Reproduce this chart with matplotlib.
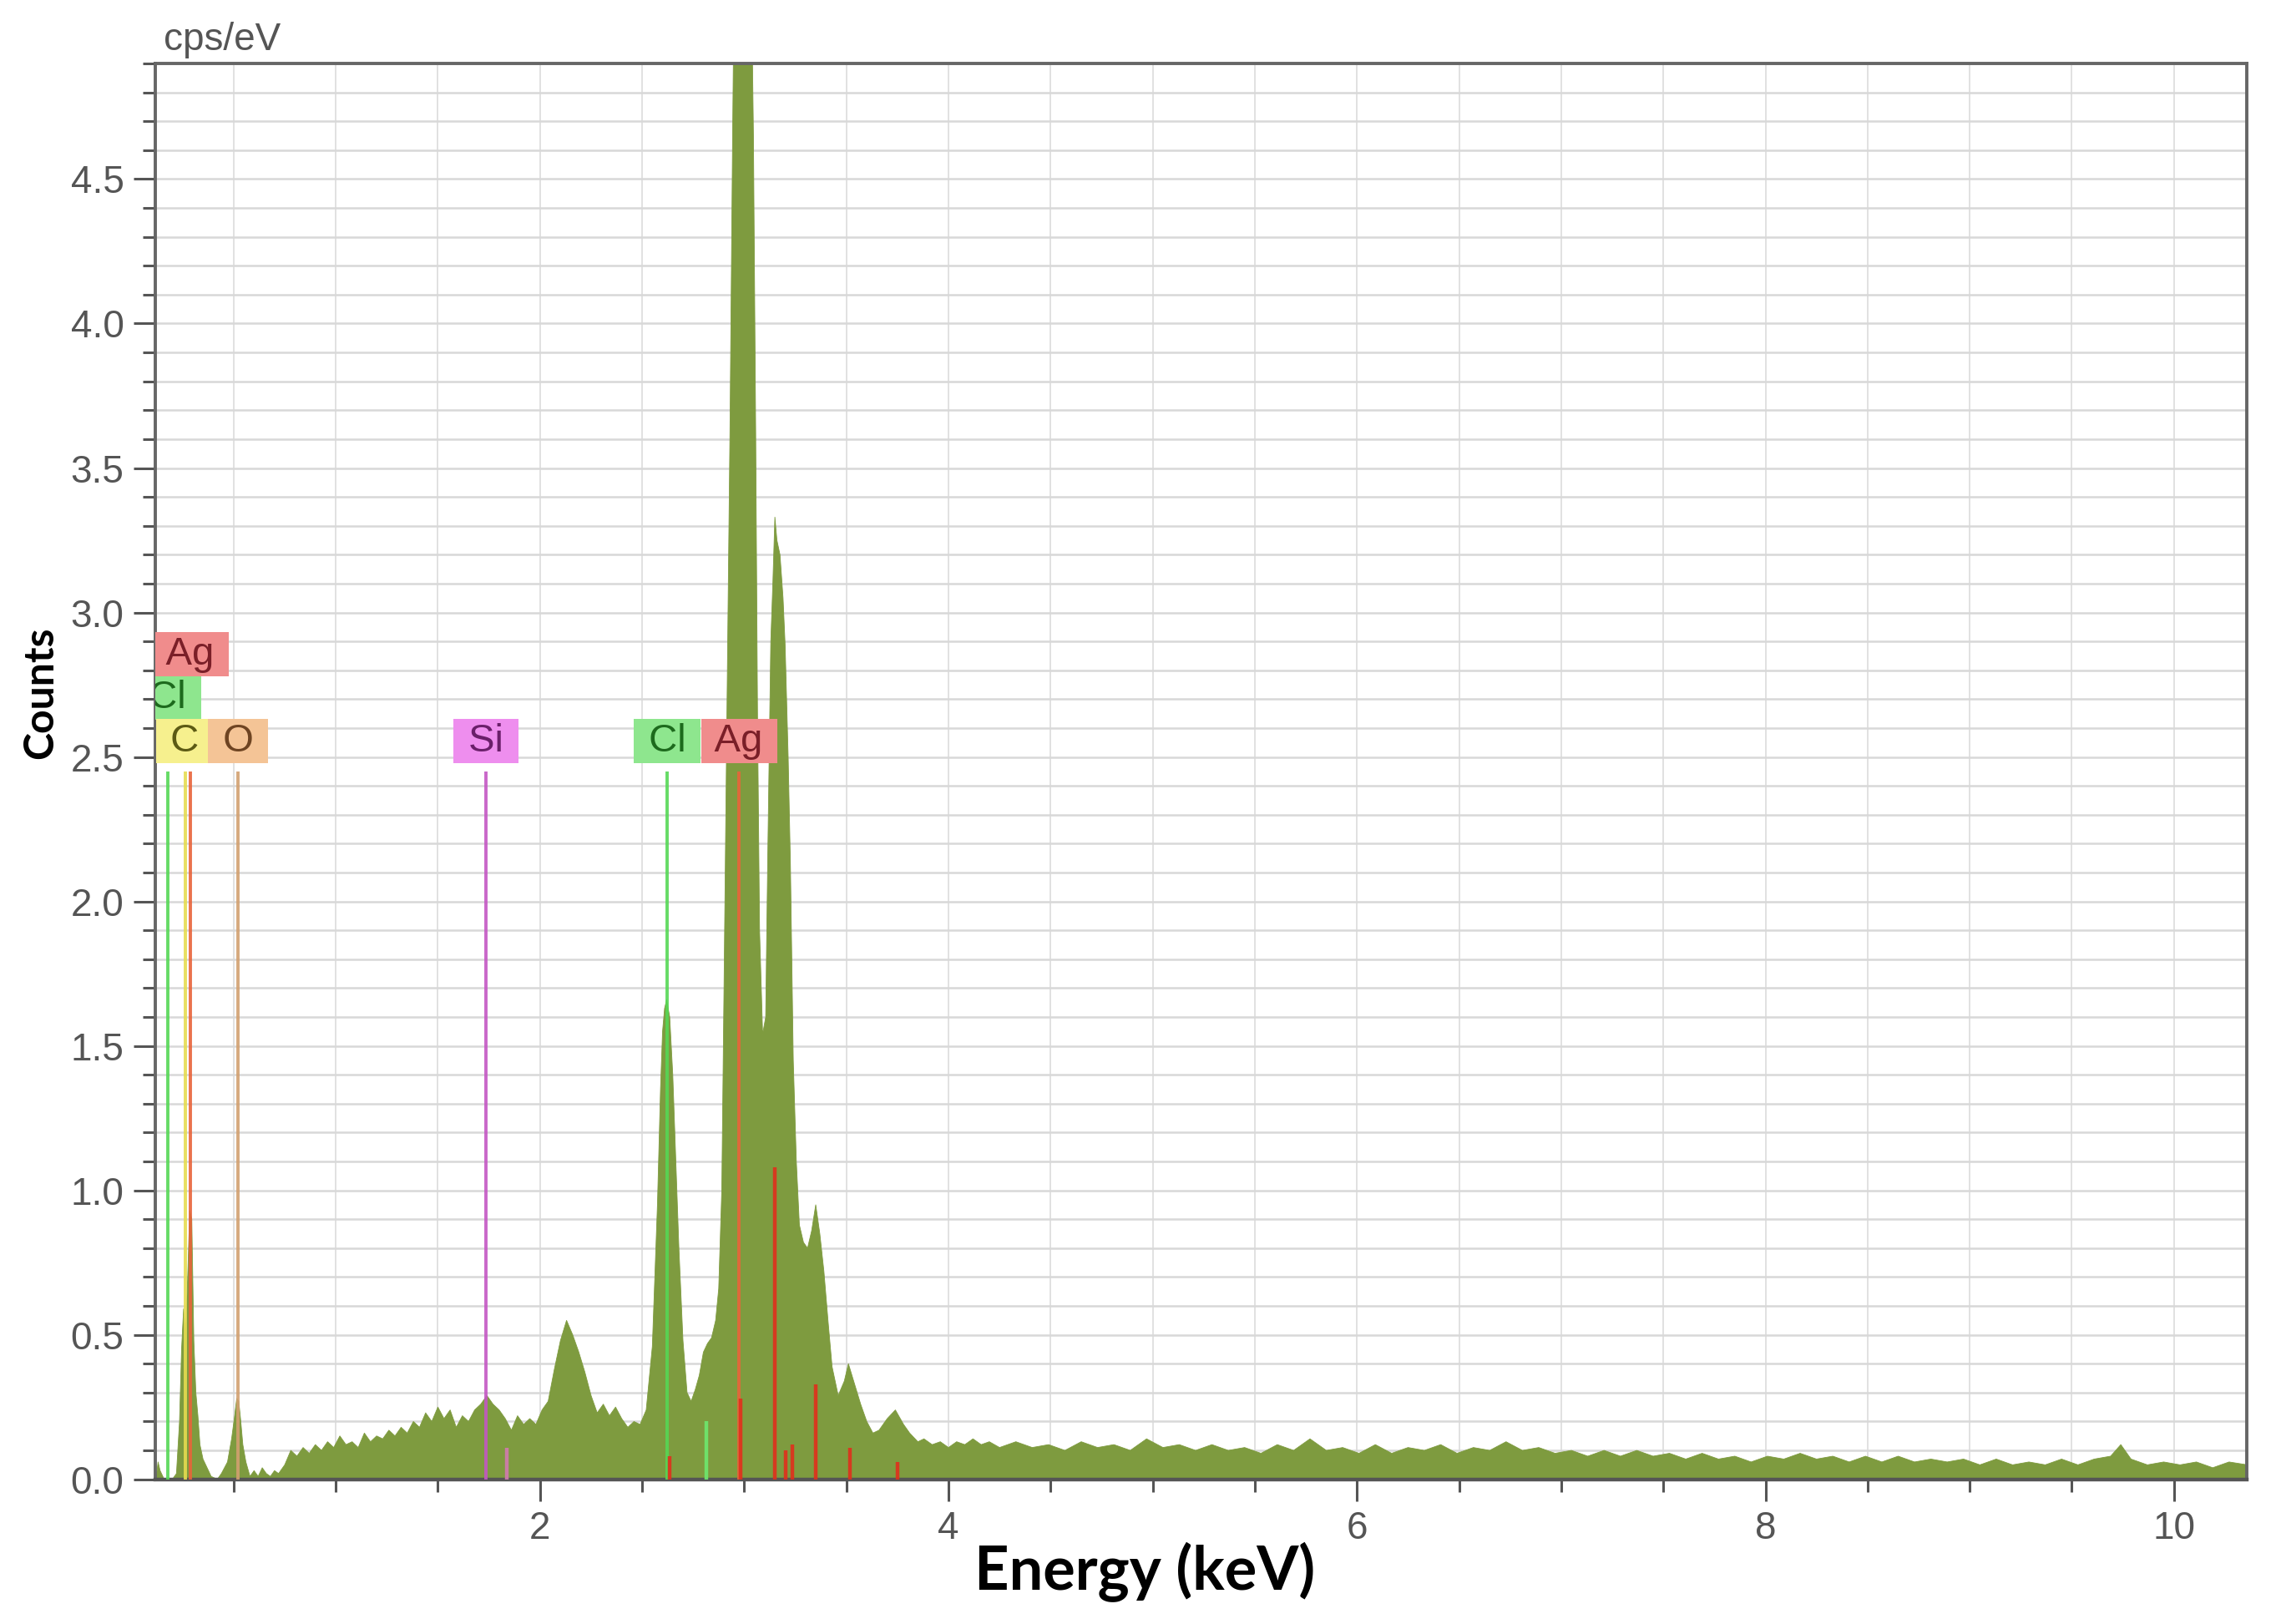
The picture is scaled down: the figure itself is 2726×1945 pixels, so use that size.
import numpy as np
import matplotlib
matplotlib.use('Agg')
import matplotlib.pyplot as plt
from matplotlib.ticker import MultipleLocator, FormatStrFormatter

# EDS spectrum (energy in keV, counts in cps/eV)
energy_low = [0.12, 0.13, 0.14, 0.16, 0.20, 0.22, 0.235, 0.245, 0.255, 0.265, 0.275,
              0.285, 0.295, 0.305, 0.315, 0.325, 0.335, 0.35, 0.37, 0.39, 0.42, 0.44,
              0.47, 0.49, 0.505, 0.515, 0.525, 0.535, 0.545, 0.56, 0.58, 0.60, 0.62,
              0.64, 0.66, 0.68, 0.70]
counts_low = [0.0, 0.06, 0.03, 0.0, 0.0, 0.02, 0.20, 0.45, 0.59, 0.50, 0.70,
              0.93, 0.90, 0.48, 0.30, 0.22, 0.12, 0.07, 0.04, 0.01, 0.0, 0.02,
              0.06, 0.14, 0.22, 0.28, 0.27, 0.20, 0.12, 0.06, 0.01, 0.03, 0.01,
              0.04, 0.02, 0.01, 0.03]

energy_mid = [0.72, 0.75, 0.78, 0.81, 0.84, 0.87, 0.90, 0.93, 0.96, 0.99, 1.02, 1.05,
              1.08, 1.11, 1.14, 1.17, 1.20, 1.23, 1.26, 1.29, 1.32, 1.35, 1.38, 1.41,
              1.44, 1.47, 1.50, 1.53, 1.56, 1.59, 1.62, 1.65, 1.68, 1.71, 1.74, 1.77,
              1.80, 1.83, 1.86, 1.89, 1.92, 1.95, 1.98, 2.01, 2.04, 2.07, 2.10, 2.13,
              2.16, 2.19, 2.22, 2.25, 2.28, 2.31, 2.34, 2.37, 2.40, 2.43, 2.46, 2.49,
              2.52, 2.55, 2.575, 2.59, 2.60, 2.61, 2.62, 2.635, 2.65, 2.665, 2.68, 2.70,
              2.72, 2.74, 2.76, 2.78, 2.80, 2.82, 2.84, 2.86, 2.875, 2.89, 2.90, 2.915,
              2.93, 2.943, 2.955, 2.97, 3.00, 3.02, 3.035, 3.045, 3.056, 3.065, 3.075,
              3.09, 3.105, 3.115, 3.13, 3.14, 3.15, 3.16, 3.175, 3.19, 3.20, 3.215,
              3.226, 3.24, 3.255, 3.27, 3.29, 3.31, 3.33, 3.35, 3.37, 3.39, 3.41, 3.43,
              3.46, 3.49, 3.51, 3.54, 3.57, 3.60, 3.63, 3.66, 3.70, 3.74, 3.78, 3.81,
              3.85, 3.88, 3.92, 3.96, 4.00, 4.04, 4.08, 4.12, 4.16, 4.20]
counts_mid = [0.02, 0.05, 0.10, 0.08, 0.11, 0.09, 0.12, 0.10, 0.13, 0.11, 0.15, 0.12,
              0.13, 0.11, 0.16, 0.13, 0.15, 0.14, 0.17, 0.15, 0.18, 0.16, 0.20, 0.18,
              0.23, 0.20, 0.25, 0.21, 0.24, 0.18, 0.22, 0.20, 0.24, 0.26, 0.29, 0.26,
              0.24, 0.21, 0.17, 0.22, 0.19, 0.21, 0.19, 0.24, 0.27, 0.38, 0.48, 0.55,
              0.50, 0.44, 0.37, 0.29, 0.23, 0.26, 0.22, 0.25, 0.21, 0.18, 0.20, 0.19,
              0.24, 0.46, 0.95, 1.35, 1.55, 1.63, 1.66, 1.60, 1.40, 1.10, 0.80, 0.48,
              0.30, 0.27, 0.31, 0.36, 0.44, 0.47, 0.49, 0.55, 0.66, 1.00, 1.64, 2.64,
              3.62, 4.65, 5.50, 6.00, 6.20, 5.90, 5.20, 4.65, 3.62, 2.64, 1.90,
              1.54, 1.60, 2.15, 2.90, 3.10, 3.33, 3.25, 3.20, 3.05, 2.89, 2.50,
              2.13, 1.45, 1.10, 0.88, 0.82, 0.80, 0.86, 0.95, 0.85, 0.72, 0.55, 0.39,
              0.29, 0.34, 0.40, 0.33, 0.26, 0.20, 0.16, 0.17, 0.21, 0.24, 0.19, 0.16,
              0.13, 0.14, 0.12, 0.13, 0.11, 0.13, 0.12, 0.14, 0.12, 0.13]

energy_high = [4.25, 4.33, 4.41, 4.49, 4.57, 4.65, 4.73, 4.81, 4.89, 4.97, 5.05, 5.13,
               5.21, 5.29, 5.37, 5.45, 5.53, 5.61, 5.69, 5.77, 5.85, 5.93, 6.01, 6.09,
               6.17, 6.25, 6.33, 6.41, 6.49, 6.57, 6.65, 6.73, 6.81, 6.89, 6.97, 7.05,
               7.13, 7.21, 7.29, 7.37, 7.45, 7.53, 7.61, 7.69, 7.77, 7.85, 7.93, 8.01,
               8.09, 8.17, 8.25, 8.33, 8.41, 8.49, 8.57, 8.65, 8.73, 8.81, 8.89, 8.97,
               9.05, 9.13, 9.21, 9.29, 9.37, 9.45, 9.53, 9.61, 9.69, 9.74, 9.79, 9.87,
               9.95, 10.03, 10.11, 10.19, 10.27, 10.36]
counts_high = [0.11, 0.13, 0.11, 0.12, 0.10, 0.13, 0.11, 0.12, 0.10, 0.14, 0.11, 0.12,
               0.10, 0.12, 0.10, 0.11, 0.09, 0.12, 0.10, 0.14, 0.10, 0.11, 0.09, 0.12,
               0.09, 0.11, 0.10, 0.12, 0.09, 0.11, 0.10, 0.13, 0.10, 0.11, 0.09, 0.10,
               0.08, 0.10, 0.08, 0.10, 0.08, 0.09, 0.07, 0.09, 0.07, 0.08, 0.06, 0.08,
               0.07, 0.09, 0.07, 0.08, 0.06, 0.08, 0.06, 0.08, 0.06, 0.07, 0.06, 0.07,
               0.05, 0.07, 0.05, 0.06, 0.05, 0.07, 0.05, 0.07, 0.08, 0.12, 0.07, 0.05,
               0.06, 0.05, 0.06, 0.04, 0.06, 0.05]

# identified elements: label, line energy (keV), label row
elem_names = ['Cl', 'C', 'Ag', 'O', 'Si', 'Cl', 'Ag']
elem_energy = [0.177, 0.262, 0.29, 0.522, 1.736, 2.622, 2.975]
elem_row = [2, 1, 3, 1, 1, 1, 1]

# short secondary lines inside the spectrum
sub_names = ['Ag', 'Ag', 'Cl', 'Ag', 'Ag', 'Ag', 'Ag', 'Ag', 'Ag', 'Si']
sub_energy = [2.634, 2.984, 2.815, 3.151, 3.203, 3.234, 3.348, 3.519, 3.749, 1.836]
sub_height = [0.08, 0.28, 0.20, 1.08, 0.10, 0.12, 0.33, 0.11, 0.06, 0.11]

line_col = {'Cl': '#55d855', 'C': '#e6dc50', 'Ag': '#e8643a', 'O': '#d2a070', 'Si': '#c457c4'}
box_col = {'Cl': '#8ee68e', 'C': '#f6f08e', 'Ag': '#f08c8c', 'O': '#f4c496', 'Si': '#ee8eee'}
txt_col = {'Cl': '#1d6a1d', 'C': '#5c5a14', 'Ag': '#7a1f28', 'O': '#6e4422', 'Si': '#6a1f6a'}
sub_col = {'Ag': '#e0301c', 'Cl': '#6ee86e', 'Si': '#d27ab0'}

energy = np.array(energy_low + energy_mid + energy_high)
counts = np.array(counts_low + counts_mid + counts_high)

plt.rcParams['font.family'] = ['Liberation Sans', 'DejaVu Sans']
gray = '#555555'

fig = plt.figure(figsize=(27.26, 19.45), dpi=100)
ax = fig.add_axes([0.0682, 0.0891, 0.9189, 0.8718])

ax.fill_between(energy, counts, 0, color='#7e9b3f', lw=0.6, zorder=2)

for name, e in zip(elem_names, elem_energy):
    ax.vlines(e, 0, 2.45, color=line_col[name], lw=2.8, alpha=0.9, zorder=3)
for name, e, h in zip(sub_names, sub_energy, sub_height):
    ax.vlines(e, 0, h, color=sub_col[name], lw=3.2, alpha=0.9, zorder=3)

for name, e, row in zip(elem_names, elem_energy, elem_row):
    ax.text(e, 2.555 + (row - 1) * 0.15, ' ' + name + ' ', ha='center', va='center',
            fontsize=34, color=txt_col[name], clip_on=True, zorder=5,
            bbox=dict(boxstyle='square,pad=0.1', fc=box_col[name], ec='none'))

ax.set_xlim(0.116, 10.356)
ax.set_ylim(0, 4.9)
ax.xaxis.set_major_locator(MultipleLocator(2))
ax.xaxis.set_minor_locator(MultipleLocator(0.5))
ax.yaxis.set_major_locator(MultipleLocator(0.5))
ax.yaxis.set_minor_locator(MultipleLocator(0.1))
ax.yaxis.set_major_formatter(FormatStrFormatter('%.1f'))

ax.set_axisbelow(True)
ax.grid(which='both', axis='y', color='#d8d8d8', lw=1.8)
ax.grid(which='both', axis='x', color='#dcdcdc', lw=1.2)

ax.tick_params(which='major', length=19, width=2.2, color=gray,
               labelsize=33, labelcolor=gray, pad=8)
ax.tick_params(which='minor', length=11, width=2.2, color=gray)

for side in ['top', 'right', 'left']:
    ax.spines[side].set_color('#666666')
    ax.spines[side].set_linewidth(2.8)
ax.spines['bottom'].set_color('#555555')
ax.spines['bottom'].set_linewidth(3.2)

ax.text(0.0042, 1.0035, 'cps/eV', transform=ax.transAxes, ha='left', va='bottom',
        fontsize=33, color=gray)

fig.text(0.503, 0.032, 'Energy (keV)', ha='center', va='center', fontsize=52,
         fontweight='bold', family=['Lato', 'DejaVu Sans'], color='black')
fig.text(0.0179, 0.5736, 'Counts', ha='center', va='center', rotation=90, fontsize=36,
         fontweight='bold', family=['Lato', 'DejaVu Sans'], color='black')

fig.savefig('out.png', dpi=100, facecolor='white')
